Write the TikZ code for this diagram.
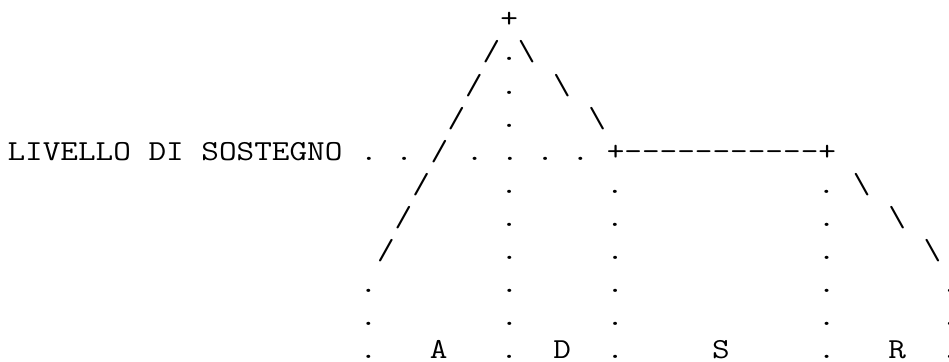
\documentclass[tikz,border=0pt]{standalone}
\usepackage{graphicx}
\newcommand\asc[1]{\scalebox{1.1803}[1]{\fontsize{29}{29}\ttfamily\selectfont #1}}
\newcommand\hyp{-\kern0pt}
\newcommand\bsl{\textbackslash}
\begin{document}
\begin{tikzpicture}[x=1pt,y=1pt,
  asciirow/.style={anchor=base west, inner sep=0pt, outer sep=0pt, text=black}]
\useasboundingbox (0,0) rectangle (949,361);
\clip (0,0) rectangle (949,361);
% row 0
\node[asciirow] (r0) at (500.3,333.1) {\asc{+}};
% rows 1-3
\node[asciirow] (r1) at (482.7,300.0) {\asc{/.\bsl}};
\node[asciirow] (r2) at (465.1,266.9) {\asc{/~.~~\bsl}};
\node[asciirow] (r3) at (447.5,233.8) {\asc{/~~.~~~~\bsl}};
% row 4
\node[asciirow] (r4) at (7.5,200.7) {\asc{LIVELLO~DI~SOSTEGNO~.~.~/~.~.~.~.~+\hyp\hyp\hyp\hyp\hyp\hyp\hyp\hyp\hyp\hyp\hyp+}};
% rows 5-7
\node[asciirow] (r5) at (412.3,167.6) {\asc{/~~~~.~~~~~.~~~~~~~~~~~.~\bsl}};
\node[asciirow] (r6) at (394.7,134.5) {\asc{/~~~~~.~~~~~.~~~~~~~~~~~.~~~\bsl}};
\node[asciirow] (r7) at (377.1,101.4) {\asc{/~~~~~~.~~~~~.~~~~~~~~~~~.~~~~~\bsl}};
% rows 8-10
\node[asciirow] (r8) at (359.5,68.3) {\asc{.~~~~~~~.~~~~~.~~~~~~~~~~~.~~~~~~.}};
\node[asciirow] (r9) at (359.5,35.2) {\asc{.~~~~~~~.~~~~~.~~~~~~~~~~~.~~~~~~.}};
\node[asciirow] (r10) at (359.5,2.1) {\asc{.~~~A~~~.~~D~~.~~~~~S~~~~~.~~~R~~.}};
\end{tikzpicture}
\end{document}
